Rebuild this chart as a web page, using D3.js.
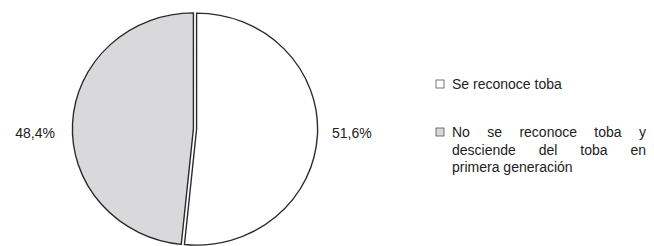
<!DOCTYPE html>
<html>
<head>
<meta charset="utf-8">
<script src="https://cdn.jsdelivr.net/npm/d3@7"></script>
<style>
  body { margin: 0; background: #fff; }
  svg { display: block; font-family: "Liberation Sans", Arial, sans-serif; }
</style>
</head>
<body>
<div id="chart"></div>
<script>
// data
const categories = ['Se reconoce toba', 'No se reconoce toba y desciende del toba en primera generación'];
const values = [51.6, 48.4];
const valueLabels = ['51,6%', '48,4%'];
const legendLines = [
  ['Se reconoce toba'],
  ['No se reconoce toba y', 'desciende del toba en', 'primera generación']
];
const colors = ['#ffffff', '#d9d9db'];

const width = 654, height = 246;
const cx = 195, cy = 129, radius = 121;
const squash = 116 / 121;   // the scanned pie is a bit flattened
const explode = 1.6;

const svg = d3.select('#chart').append('svg')
  .attr('width', width)
  .attr('height', height);

const pie = d3.pie().sort(null);
const arcs = pie(values);

const arc = d3.arc().innerRadius(0).outerRadius(radius);

const g = svg.append('g')
  .attr('transform', `translate(${cx},${cy}) scale(1,${squash})`);

g.selectAll('path')
  .data(arcs)
  .enter().append('path')
  .attr('d', arc)
  .attr('transform', (d) => {
    let mid = (d.startAngle + d.endAngle) / 2;
    return `translate(${Math.sin(mid) * explode},${-Math.cos(mid) * explode})`;
  })
  .attr('fill', (d, i) => colors[i])
  .attr('stroke', '#2b2b2b')
  .attr('stroke-width', 1.4);

// percentage labels, left or right of the pie
svg.append('g')
  .attr('transform', `translate(${cx},${cy})`)
  .selectAll('.pct')
  .data(arcs)
  .enter().append('text')
  .attr('class', 'pct')
  .attr('x', (d) => {
    let mid = (d.startAngle + d.endAngle) / 2;
    return Math.sin(mid) > 0 ? radius + 16 : -radius - 19;
  })
  .attr('y', 8.5)
  .style('text-anchor', (d) => {
    let mid = (d.startAngle + d.endAngle) / 2;
    return Math.sin(mid) > 0 ? 'start' : 'end';
  })
  .style('font-size', '14px')
  .style('fill', '#222')
  .text((d, i) => valueLabels[i]);

// legend
const legendY = [84, 132];
const textX = 16, rightEdge = 646 - 436;

const legend = svg.selectAll('.legend')
  .data(categories)
  .enter().append('g')
  .attr('class', 'legend')
  .attr('transform', (d, i) => `translate(436,${legendY[i]})`);

legend.append('rect')
  .attr('x', 0)
  .attr('y', -4)
  .attr('width', 8)
  .attr('height', 8)
  .attr('fill', (d, i) => colors[i])
  .attr('stroke', '#555')
  .attr('stroke-width', 0.8);

legend.append('text')
  .attr('x', textX)
  .attr('y', 5)
  .style('font-size', '14px')
  .style('fill', '#222')
  .each(function(d, i) {
    let lines = legendLines[i];
    lines.forEach((line, j) => {
      let t = d3.select(this).append('tspan')
        .attr('x', textX)
        .attr('dy', j === 0 ? 0 : 17.5)
        .text(line);
      // justify every line but the last of a wrapped block
      if (lines.length > 1 && j < lines.length - 1) {
        let gaps = line.split(' ').length - 1;
        let extra = (rightEdge - textX) - t.node().getComputedTextLength();
        if (gaps > 0 && extra > 0) t.style('word-spacing', (extra / gaps) + 'px');
      }
    });
  });
</script>
</body>
</html>
